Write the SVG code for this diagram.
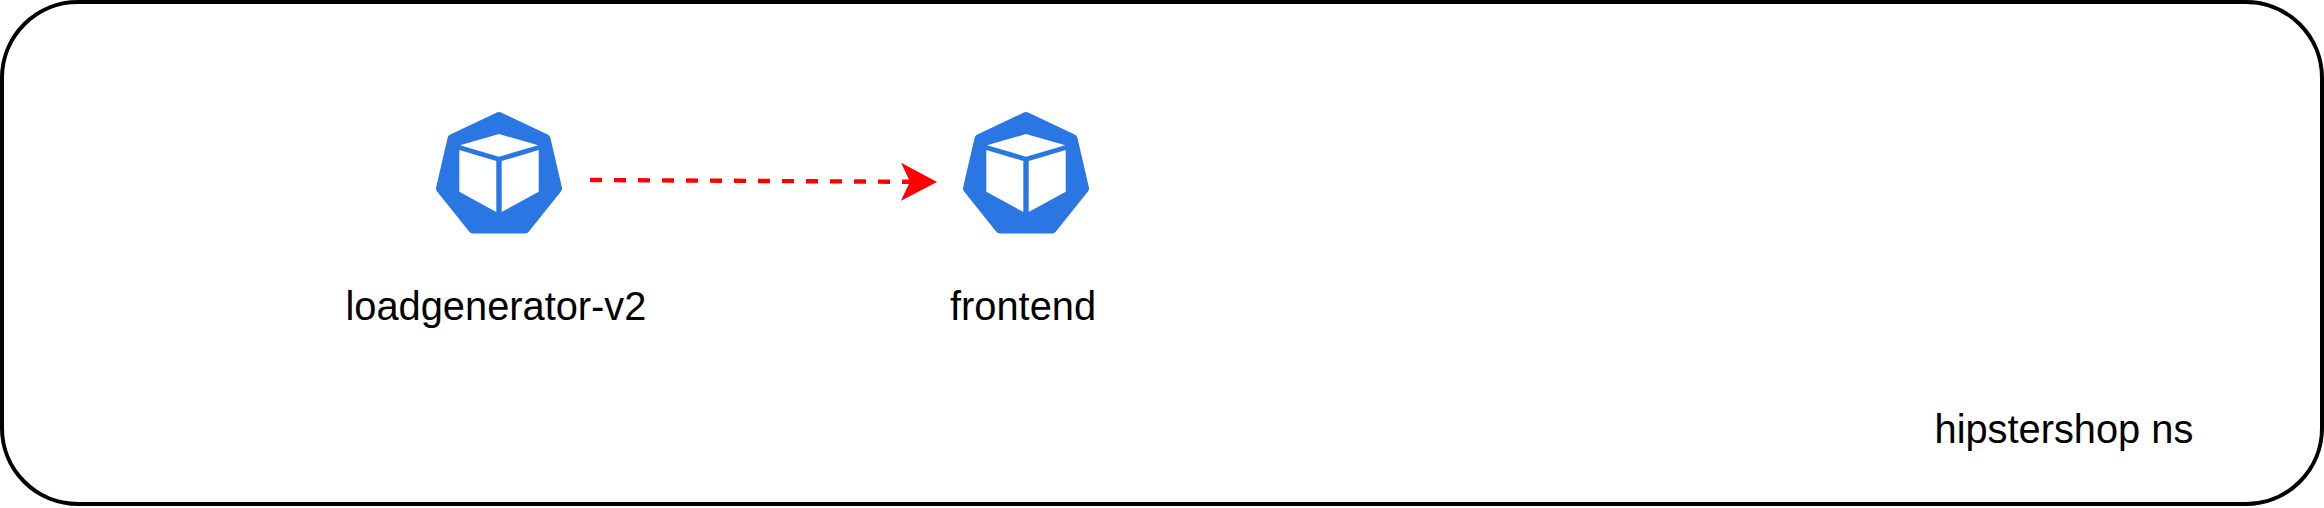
<svg xmlns="http://www.w3.org/2000/svg" width="2324" height="508" viewBox="0 0 2324 508">
<style>
.t{font-family:"Liberation Sans",Arial,sans-serif;font-size:39.8px;fill:#000}
.hex{fill:#2a77e4;stroke:#2a77e4;stroke-width:10;stroke-linejoin:round}
.cube{fill:#fff}
</style>
<defs>
<g id="pod">
<polygon class="hex" points="499,117 545.5,139 557,188.5 525,228.5 473,228.5 441,188.5 452.5,139"/>
<polygon class="cube" points="499,134 538.3,145.3 499,156.7 460,145.3"/>
<polygon class="cube" points="459.3,150 496.3,161 496.3,212 459.3,191.7"/>
<polygon class="cube" points="501.7,161 538.7,150 538.7,191.7 501.7,212"/>
</g>
<marker id="arrow" markerUnits="userSpaceOnUse" markerWidth="40" markerHeight="40" refX="9" refY="19" orient="auto">
<path d="M0,0 L36,19 L0,38 L9,19 Z" fill="#f00"/>
</marker>
</defs>
<g id="namespace">
<rect x="2" y="2" width="2320" height="502" rx="76" ry="76" fill="#fff" stroke="#000" stroke-width="4"/>
<text class="t" x="1934.5" y="443">hipstershop ns</text>
</g>
<g id="connectors">
<line x1="590" y1="180" x2="910" y2="181.8" stroke="#f00" stroke-width="4.4" stroke-dasharray="12 12" marker-end="url(#arrow)"/>
</g>
<g id="loadgenerator-v2">
<use href="#pod"/>
<text class="t" x="345.5" y="320">loadgenerator-v2</text>
</g>
<g id="frontend">
<use href="#pod" x="527"/>
<text class="t" x="950" y="320">frontend</text>
</g>
</svg>
